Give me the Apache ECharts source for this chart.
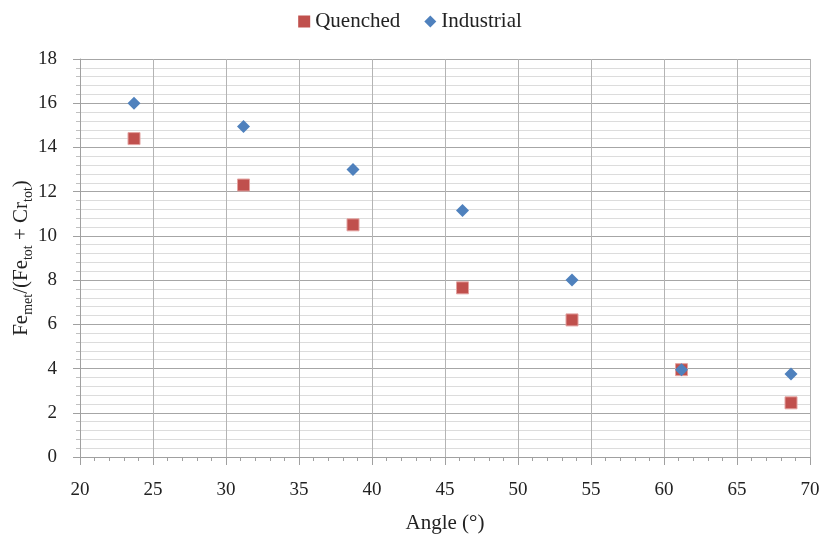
<!DOCTYPE html>
<html>
<head>
<meta charset="utf-8">
<script src="https://cdn.jsdelivr.net/npm/echarts@6/dist/echarts.min.js"></script>
<style>
  html, body { margin: 0; padding: 0; background: #fff; }
  #chart { width: 820px; height: 534px; }
</style>
</head>
<body>
<div id="chart"></div>
<script>
// Angle of each sample (degrees)
const angles = [23.7, 31.2, 38.7, 46.2, 53.7, 61.2, 68.7];
// Metallic iron fraction per sample
const quenched = [14.4, 12.3, 10.5, 7.65, 6.2, 3.95, 2.45];
const industrial = [16.0, 14.95, 13.0, 11.15, 8.0, 3.95, 3.75];

const seriesNames = ['Quenched', 'Industrial'];

const FONT = '"Liberation Serif", "DejaVu Serif", serif';
const TEXT = '#222';

function pairs(xs, ys) {
  return xs.map((x, i) => [x, ys[i]]);
}

const chart = echarts.init(document.getElementById('chart'), null, { renderer: 'canvas' });

chart.setOption({
  animation: false,
  backgroundColor: '#ffffff',
  textStyle: { fontFamily: FONT, color: TEXT },
  legend: {
    top: 6,
    left: 'center',
    itemGap: 24,
    itemWidth: 12,
    itemHeight: 12,
    textStyle: { fontFamily: FONT, fontSize: 21, color: TEXT },
    data: [
      { name: seriesNames[0], icon: 'rect', itemStyle: { borderWidth: 0 } },
      { name: seriesNames[1], icon: 'diamond' }
    ]
  },
  grid: { left: 80, right: 10, top: 59, bottom: 77, containLabel: false, outerBoundsMode: 'none' },
  xAxis: {
    type: 'value',
    min: 20,
    max: 70,
    interval: 5,
    name: 'Angle (°)',
    nameLocation: 'middle',
    nameGap: 56,
    nameMoveOverlap: false,
    nameTextStyle: { fontFamily: FONT, fontSize: 21, color: TEXT },
    axisLine: { show: true, lineStyle: { color: '#a0a0a0', width: 1 } },
    axisTick: { show: true, length: 8, lineStyle: { color: '#a0a0a0' } },
    minorTick: { show: true, splitNumber: 5, length: 4, lineStyle: { color: '#a0a0a0' } },
    axisLabel: { fontFamily: FONT, fontSize: 19, color: TEXT, margin: 24 },
    splitLine: { show: true, lineStyle: { color: '#b4b4b4', width: 1 } }
  },
  yAxis: {
    type: 'value',
    min: 0,
    max: 18,
    interval: 2,
    name: '{n|Fe}{s|met}{n|/(Fe}{s|tot}{n| + Cr}{s|tot}{n|)}',
    nameLocation: 'middle',
    nameRotate: 90,
    nameGap: 45,
    nameMoveOverlap: false,
    nameTextStyle: {
      fontFamily: FONT,
      color: TEXT,
      rich: {
        n: { fontFamily: FONT, fontSize: 21, color: TEXT, lineHeight: 28, verticalAlign: 'middle' },
        s: { fontFamily: FONT, fontSize: 14, color: TEXT, lineHeight: 28, verticalAlign: 'bottom', padding: [6, 0, 0, 0] }
      }
    },
    axisLine: { show: true, lineStyle: { color: '#a0a0a0', width: 1 } },
    axisTick: { show: true, length: 7, lineStyle: { color: '#a0a0a0' } },
    minorTick: { show: true, splitNumber: 5, length: 4, lineStyle: { color: '#c0c0c0' } },
    axisLabel: { fontFamily: FONT, fontSize: 19, color: TEXT, margin: 23 },
    splitLine: { show: true, lineStyle: { color: '#a6a6a6', width: 1 } },
    minorSplitLine: { show: true, lineStyle: { color: '#dcdcdc', width: 1 } }
  },
  series: [
    {
      name: seriesNames[0],
      type: 'scatter',
      symbol: 'rect',
      symbolSize: 12,
      itemStyle: { color: '#C0504D', opacity: 1, borderColor: '#e3a3a1', borderWidth: 1 },
      data: pairs(angles, quenched),
      z: 2
    },
    {
      name: seriesNames[1],
      type: 'scatter',
      symbol: 'diamond',
      symbolSize: 13,
      itemStyle: { color: '#4F81BD', opacity: 1 },
      data: pairs(angles, industrial),
      z: 3
    }
  ]
});
</script>
</body>
</html>
